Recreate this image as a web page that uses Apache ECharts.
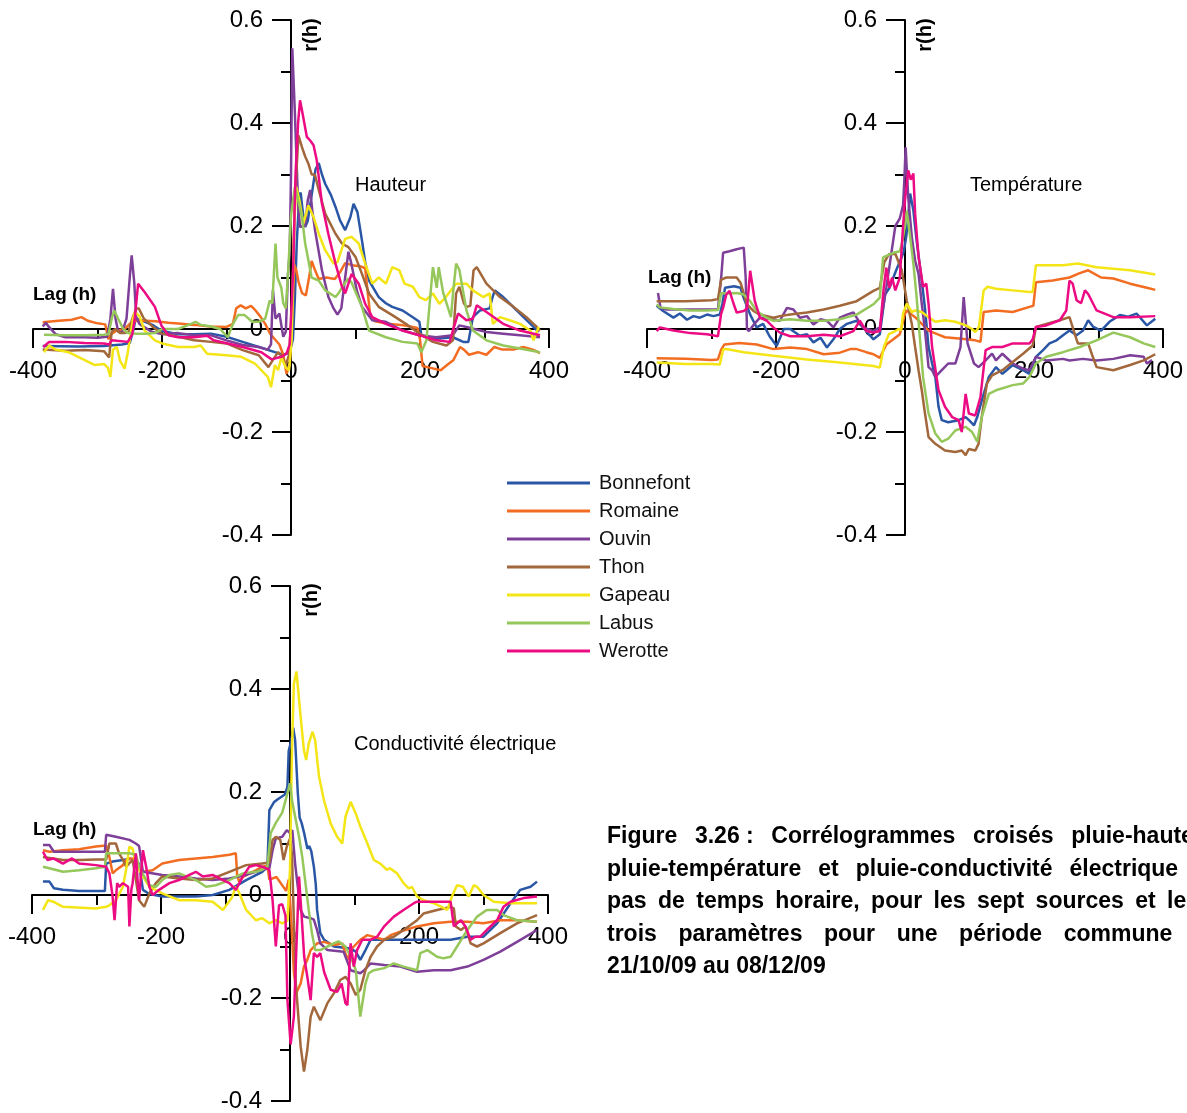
<!DOCTYPE html>
<html><head><meta charset="utf-8">
<script src="https://cdn.jsdelivr.net/npm/echarts@6/dist/echarts.min.js"></script>
<style>html,body{margin:0;padding:0;background:#fff}#c{width:1187px;height:1113px}</style>
</head><body><div id="c"></div>
<script>
const names = ['Bonnefont','Romaine','Ouvin','Thon','Gapeau','Labus','Werotte'];
const colors = ['#2a57a5','#f26d21','#7e3f99','#a2673b','#f4e516','#95c75b','#ec0b83'];
const panelTitles = ['Hauteur','Température','Conductivité électrique'];
const xTicks = [-400,-200,0,200,400];
const yTicks = [-0.4,-0.2,0,0.2,0.4,0.6];

// ---- Hauteur ----
const H_Bonnefont = [[-385,-0.033],[-330,-0.034],[-290,-0.033],[-262,-0.03],[-250,-0.027],[-244,0.0],[-241,0.02],[-230,0.016],[-215,0.008],[-200,-0.004],[-175,-0.01],[-150,-0.01],[-124,-0.009],[-100,-0.015],[-75,-0.025],[-50,-0.035],[-25,-0.045],[-12,-0.05],[-5,-0.047],[0,-0.035],[3,-0.02],[6,0.06],[9,0.17],[13,0.26],[15,0.265],[18,0.23],[22,0.198],[26,0.21],[32,0.26],[38,0.31],[43,0.322],[48,0.3],[53,0.282],[62,0.26],[69,0.237],[76,0.211],[84,0.192],[92,0.217],[97,0.243],[103,0.227],[110,0.172],[115,0.13],[121,0.094],[136,0.062],[147,0.05],[157,0.043],[173,0.036],[190,0.022],[199,0.014],[202,-0.012],[225,-0.019],[251,-0.016],[267,-0.025],[275,-0.025],[282,0.023],[293,0.036],[308,0.04],[312,0.06],[316,0.075],[329,0.062],[355,0.03],[376,0.004],[384,-0.006]];
const H_Romaine = [[-385,0.013],[-360,0.016],[-340,0.018],[-325,0.023],[-315,0.016],[-300,0.011],[-288,0.009],[-283,-0.02],[-279,-0.01],[-270,-0.003],[-258,0.0],[-250,0.01],[-240,0.016],[-225,0.016],[-210,0.015],[-190,0.012],[-170,0.01],[-150,0.008],[-125,0.005],[-100,0.004],[-90,0.01],[-85,0.04],[-78,0.046],[-70,0.04],[-62,0.045],[-55,0.036],[-48,0.025],[-40,0.01],[-32,-0.01],[-25,-0.02],[-18,-0.03],[-12,-0.05],[-7,-0.087],[-2,-0.07],[2,0.03],[5,0.125],[8,0.115],[12,0.09],[17,0.07],[23,0.065],[28,0.1],[32,0.132],[37,0.115],[43,0.097],[55,0.1],[68,0.097],[76,0.11],[84,0.128],[95,0.124],[107,0.122],[115,0.118],[119,0.07],[123,0.025],[130,0.015],[150,0.01],[170,0.008],[185,0.005],[196,0.002],[200,-0.02],[204,-0.072],[215,-0.075],[232,-0.08],[242,-0.07],[252,-0.06],[262,-0.035],[268,-0.04],[276,-0.05],[290,-0.045],[303,-0.05],[315,-0.035],[328,-0.04],[345,-0.04],[360,-0.035],[375,-0.04],[386,-0.047]];
const H_Ouvin = [[-385,0.005],[-380,0.012],[-376,0.005],[-365,-0.01],[-350,-0.016],[-320,-0.016],[-300,-0.017],[-285,-0.015],[-280,0.02],[-276,0.078],[-272,0.02],[-268,-0.005],[-262,-0.007],[-255,0.02],[-250,0.1],[-247,0.143],[-243,0.09],[-240,0.023],[-235,0.01],[-228,0.004],[-215,-0.006],[-200,-0.01],[-175,-0.008],[-150,-0.012],[-125,-0.012],[-100,-0.022],[-75,-0.031],[-50,-0.035],[-36,-0.04],[-31,-0.03],[-28,0.075],[-24,0.02],[-18,0.03],[-12,-0.015],[-8,-0.005],[-5,0.1],[-2,0.15],[0,0.3],[2,0.545],[6,0.42],[11,0.243],[14,0.198],[18,0.2],[22,0.2],[26,0.25],[29.7,0.27],[33,0.23],[37.5,0.19],[48,0.114],[58,0.062],[66,0.04],[72,0.028],[78,0.04],[84,0.1],[89,0.15],[93,0.13],[102,0.075],[110,0.043],[126,0.017],[147,0.014],[173,-0.003],[199,-0.012],[225,-0.016],[251,-0.012],[261,0.007],[272,0.004],[303,-0.006],[329,-0.009],[355,-0.012],[386,-0.016]];
const H_Thon = [[-385,-0.04],[-350,-0.042],[-320,-0.041],[-290,-0.043],[-282,-0.055],[-278,-0.005],[-272,0.0],[-265,-0.008],[-258,-0.008],[-252,-0.006],[-246,0.02],[-240,0.04],[-236,0.04],[-228,0.02],[-215,0.005],[-200,-0.009],[-175,-0.015],[-150,-0.022],[-124,-0.025],[-100,-0.028],[-75,-0.041],[-50,-0.051],[-35,-0.074],[-28,-0.06],[-20,-0.045],[-14,-0.054],[-8,-0.07],[-3,-0.05],[2,0.05],[6,0.25],[11.5,0.376],[17,0.353],[22,0.335],[27,0.321],[32,0.3],[37,0.3],[43,0.27],[53,0.224],[69,0.185],[79,0.166],[89,0.159],[100,0.14],[110,0.107],[121,0.069],[136,0.043],[157,0.027],[178,0.01],[199,-0.009],[220,-0.025],[241,-0.032],[251,-0.022],[256,0.069],[261,0.082],[268,0.05],[272,0.043],[278,0.045],[283,0.114],[288,0.12],[303,0.088],[324,0.062],[345,0.043],[365,0.023],[381,0.004],[386,-0.003]];
const H_Gapeau = [[-383,-0.045],[-375,-0.032],[-365,-0.04],[-345,-0.045],[-330,-0.054],[-304,-0.07],[-290,-0.068],[-284,-0.075],[-280,-0.093],[-276,-0.04],[-270,-0.035],[-265,-0.062],[-258,-0.077],[-253,-0.045],[-245,0.02],[-242,0.033],[-235,0.025],[-227,-0.003],[-211,-0.022],[-200,-0.028],[-175,-0.035],[-150,-0.035],[-140,-0.032],[-130,-0.048],[-100,-0.051],[-77,-0.054],[-56,-0.067],[-36,-0.093],[-31,-0.113],[-25,-0.07],[-20,-0.08],[-15,-0.055],[-8,-0.075],[-3,-0.08],[1,-0.02],[5,0.2],[8,0.276],[13,0.25],[19,0.204],[27,0.24],[35,0.217],[43,0.185],[53,0.153],[66,0.127],[72,0.13],[84,0.175],[94,0.179],[105,0.166],[115,0.127],[126,0.088],[136,0.1],[147,0.088],[157,0.12],[168,0.114],[176,0.088],[189,0.082],[199,0.062],[209,0.056],[220,0.069],[230,0.049],[240,0.062],[256,0.088],[272,0.088],[282,0.075],[298,0.062],[308,0.069],[313,0.01],[324,0.023],[339,0.017],[355,0.01],[371,-0.003],[376,-0.022],[384,0.004]];
const H_Labus = [[-383,-0.011],[-350,-0.012],[-320,-0.012],[-290,-0.011],[-283,-0.01],[-278,0.02],[-274,0.036],[-268,0.02],[-260,0.0],[-253,-0.008],[-240,-0.009],[-225,-0.009],[-211,-0.008],[-200,0.0],[-175,0.0],[-155,0.01],[-148,0.014],[-140,0.008],[-124,0.005],[-110,0.0],[-98,-0.016],[-90,0.01],[-82,0.027],[-72,0.027],[-60,0.014],[-50,0.014],[-40,0.02],[-33,0.055],[-29,0.05],[-26,0.12],[-24,0.166],[-21,0.1],[-15,0.08],[-12,0.05],[-8,0.04],[-4,0.12],[0,0.22],[6,0.276],[11,0.25],[17,0.217],[22,0.166],[32,0.1],[43,0.094],[53,0.075],[69,0.062],[74,0.07],[84,0.09],[89,0.098],[94,0.09],[110,0.043],[121,-0.003],[147,-0.016],[173,-0.025],[196,-0.028],[202,-0.045],[210,-0.022],[215,0.05],[220,0.12],[226,0.08],[229,0.12],[236,0.07],[248,0.023],[252,0.08],[256,0.127],[261,0.115],[272,0.036],[282,-0.003],[303,-0.022],[329,-0.032],[355,-0.038],[386,-0.045]];
const H_Werotte = [[-384,-0.035],[-375,-0.025],[-350,-0.025],[-320,-0.027],[-290,-0.028],[-282,-0.03],[-278,-0.022],[-270,-0.023],[-253,-0.025],[-246,-0.01],[-242,0.023],[-237,0.088],[-227,0.072],[-211,0.043],[-201,0.007],[-190,-0.012],[-175,-0.016],[-150,-0.016],[-130,-0.013],[-120,-0.022],[-98,-0.028],[-75,-0.035],[-46,-0.045],[-30,-0.059],[-15,-0.054],[-7,-0.048],[-2,-0.03],[3,0.1],[7,0.3],[11,0.4],[14,0.444],[18,0.418],[24.6,0.373],[29.7,0.366],[35,0.357],[38,0.357],[40,0.327],[48,0.243],[58,0.184],[69,0.127],[79,0.082],[84,0.069],[94,0.107],[105,0.088],[115,0.049],[126,0.023],[147,0.01],[173,-0.003],[199,-0.012],[225,-0.022],[246,-0.025],[251,-0.003],[259,0.03],[272,0.017],[282,0.02],[288,0.046],[303,0.033],[329,0.01],[355,-0.003],[386,-0.012]];

// ---- Température ----
const T_Bonnefont = [[-385,0.045],[-375,0.035],[-359,0.022],[-349,0.03],[-338,0.018],[-328,0.025],[-318,0.022],[-307,0.028],[-297,0.025],[-287,0.028],[-283,0.05],[-279,0.08],[-265,0.083],[-255,0.08],[-250,0.06],[-240,0.028],[-230,0.003],[-220,0.01],[-210,-0.014],[-199,-0.033],[-193,-0.015],[-188,0.0],[-178,0.0],[-163,-0.013],[-152,-0.01],[-142,-0.026],[-131,-0.017],[-121,-0.036],[-111,-0.02],[-101,0.0],[-90,0.01],[-75,0.016],[-65,0.003],[-54,-0.013],[-49,-0.02],[-39,-0.01],[-31,0.067],[-24,0.08],[-14,0.113],[-5,0.14],[-2,0.15],[2,0.18],[8,0.263],[13,0.23],[18,0.172],[26,0.094],[31,0.04],[36.5,-0.035],[42,-0.067],[47,-0.093],[52,-0.151],[57,-0.177],[67,-0.181],[83,-0.177],[94,-0.171],[100,-0.178],[107,-0.187],[112,-0.171],[119,-0.139],[130,-0.093],[141,-0.074],[151,-0.087],[167,-0.07],[183,-0.08],[193,-0.087],[203,-0.054],[214,-0.041],[224,-0.028],[235,-0.022],[245,-0.012],[255,-0.003],[266,-0.012],[276,-0.003],[284,0.017],[292,0.004],[304,-0.003],[317,0.014],[333,0.027],[346,0.024],[359,0.03],[375,0.007],[388,0.02]];
const T_Romaine = [[-385,-0.057],[-340,-0.058],[-300,-0.06],[-290,-0.059],[-285,-0.04],[-280,-0.03],[-257,-0.027],[-230,-0.03],[-204,-0.039],[-178,-0.036],[-152,-0.039],[-126,-0.049],[-101,-0.046],[-85,-0.039],[-75,-0.039],[-60,-0.045],[-49,-0.049],[-39,-0.056],[-29,-0.03],[-18,-0.02],[-8,-0.01],[-3,0.015],[0,0.03],[3,0.036],[8,0.03],[15.7,0.023],[26,0.01],[36.5,-0.003],[50,-0.01],[62,-0.016],[88,-0.019],[109,-0.022],[117,-0.025],[122,0.033],[141,0.036],[167,0.033],[193,0.043],[199,0.045],[203,0.091],[229,0.094],[255,0.1],[270,0.108],[284,0.114],[304,0.1],[323,0.098],[349,0.088],[375,0.08],[388,0.076]];
const T_Ouvin = [[-383,0.07],[-379,0.041],[-370,0.038],[-330,0.038],[-290,0.038],[-285,0.1],[-282,0.148],[-272,0.151],[-261,0.155],[-250,0.158],[-247,0.1],[-245,0.0],[-242,-0.004],[-234,0.009],[-225,0.022],[-204,0.019],[-194,0.016],[-183,0.041],[-173,0.038],[-163,0.022],[-152,0.025],[-142,0.009],[-131,0.019],[-121,0.016],[-111,0.003],[-101,0.022],[-90,0.028],[-80,0.032],[-75,0.022],[-65,0.003],[-49,-0.004],[-39,0.003],[-29,0.08],[-22,0.14],[-15,0.2],[-8,0.215],[-3,0.24],[-1,0.29],[1,0.353],[5,0.256],[10.5,0.179],[15.7,0.133],[21,0.107],[26,0.049],[31,-0.003],[36.5,-0.074],[42,-0.08],[47,-0.093],[57,-0.08],[67,-0.067],[78,-0.067],[86,-0.035],[91,0.062],[97,-0.028],[107,-0.067],[114,-0.074],[125,-0.061],[135,-0.048],[141,-0.061],[151,-0.048],[167,-0.067],[183,-0.077],[193,-0.08],[203,-0.054],[219,-0.061],[245,-0.058],[255,-0.061],[276,-0.058],[297,-0.061],[323,-0.058],[349,-0.051],[370,-0.054],[375,-0.067],[383,-0.06]];
const T_Thon = [[-385,0.054],[-340,0.054],[-300,0.056],[-290,0.058],[-285,0.096],[-277,0.1],[-261,0.1],[-255,0.09],[-245,0.048],[-235,0.035],[-225,0.028],[-204,0.022],[-194,0.025],[-178,0.028],[-152,0.032],[-126,0.038],[-101,0.045],[-75,0.054],[-49,0.074],[-39,0.08],[-32,0.13],[-25,0.145],[-15,0.146],[-5,0.114],[2.6,0.056],[10.5,0.01],[15.7,-0.035],[21,-0.08],[26,-0.119],[31,-0.164],[36.5,-0.21],[47,-0.223],[62,-0.236],[78,-0.239],[88,-0.236],[94,-0.245],[99,-0.233],[109,-0.236],[114,-0.223],[119,-0.171],[127,-0.106],[135,-0.09],[151,-0.08],[167,-0.064],[183,-0.048],[198,-0.032],[203,0.004],[219,0.01],[240,0.017],[255,0.023],[263,-0.009],[268,-0.028],[284,-0.028],[290,-0.05],[297,-0.074],[323,-0.08],[349,-0.07],[370,-0.061],[388,-0.049]];
const T_Gapeau = [[-385,-0.065],[-340,-0.068],[-300,-0.068],[-287,-0.069],[-282,-0.04],[-277,-0.039],[-250,-0.045],[-204,-0.052],[-152,-0.059],[-101,-0.065],[-49,-0.072],[-39,-0.075],[-33,-0.036],[-25,-0.01],[-15,-0.004],[-10,0.0],[-6,-0.002],[-3,0.03],[0,0.04],[2.6,0.049],[10.5,0.033],[15.7,0.036],[26,0.033],[36.5,0.023],[47,0.014],[62,0.017],[78,0.014],[94,0.007],[104,0.0],[109,-0.006],[114.6,0.004],[122,0.075],[128,0.082],[141,0.078],[167,0.075],[193,0.072],[198,0.072],[203,0.124],[219,0.124],[245,0.124],[268,0.127],[297,0.12],[323,0.117],[349,0.114],[388,0.106]];
const T_Labus = [[-385,0.048],[-380,0.042],[-359,0.039],[-333,0.036],[-307,0.036],[-290,0.037],[-285,0.07],[-277,0.069],[-261,0.07],[-250,0.067],[-240,0.054],[-230,0.035],[-215,0.022],[-204,0.016],[-178,0.019],[-152,0.016],[-126,0.016],[-101,0.019],[-75,0.028],[-49,0.048],[-39,0.061],[-34,0.139],[-18,0.148],[-8,0.151],[-4,0.17],[0,0.2],[2.6,0.23],[8,0.179],[13,0.127],[18,0.062],[23,-0.016],[28,-0.093],[36.5,-0.164],[47,-0.203],[57,-0.219],[67,-0.213],[78,-0.197],[94,-0.19],[104,-0.2],[112,-0.219],[119,-0.171],[130,-0.126],[141,-0.119],[167,-0.109],[183,-0.106],[193,-0.093],[203,-0.067],[219,-0.054],[245,-0.045],[271,-0.035],[297,-0.022],[323,-0.007],[349,-0.016],[370,-0.028],[388,-0.035]];
const T_Werotte = [[-385,-0.004],[-380,0.003],[-359,-0.003],[-333,-0.008],[-307,-0.01],[-290,-0.014],[-285,0.03],[-282,0.041],[-277,0.067],[-272,0.074],[-266,0.05],[-261,0.032],[-250,0.035],[-245,0.04],[-240,0.113],[-233,0.055],[-225,0.022],[-214,0.016],[-204,0.003],[-194,-0.007],[-178,-0.014],[-152,-0.014],[-126,-0.011],[-101,-0.014],[-80,-0.004],[-70,0.016],[-60,-0.004],[-49,-0.007],[-39,-0.004],[-33,0.08],[-29,0.119],[-24,0.08],[-20,0.1],[-15,0.075],[-8,0.1],[-3,0.2],[0,0.25],[5,0.308],[9,0.29],[13,0.302],[15.7,0.224],[21,0.14],[28,0.082],[33,0.088],[36.5,0.049],[42,-0.035],[52,-0.119],[62,-0.151],[73,-0.171],[83,-0.177],[88,-0.2],[94,-0.126],[99,-0.164],[109,-0.168],[117,-0.132],[125,-0.041],[135,-0.035],[151,-0.035],[167,-0.028],[193,-0.028],[198,-0.02],[203,0.004],[219,0.007],[240,0.017],[250,0.036],[255,0.094],[260,0.088],[266,0.056],[273,0.05],[279,0.075],[284,0.068],[297,0.036],[323,0.023],[349,0.023],[388,0.025]];

// ---- Conductivité électrique ----
const C_Bonnefont = [[-383,0.026],[-373,0.026],[-366,0.013],[-352,0.01],[-327,0.008],[-301,0.008],[-287,0.008],[-285,0.061],[-275,0.065],[-259,0.068],[-249,0.07],[-239,0.07],[-234,0.06],[-228,0.01],[-218,0.002],[-198,-0.003],[-172,-0.003],[-146,-0.003],[-120,0.0],[-94,0.01],[-68,0.029],[-43,0.045],[-35,0.055],[-32,0.165],[-25,0.18],[-20,0.185],[-8,0.195],[-4,0.21],[-2,0.28],[2,0.3],[5,0.325],[8,0.3],[12,0.2],[15,0.15],[18,0.14],[22,0.12],[27,0.09],[30,0.095],[33,0.085],[37,0.055],[40,0.02],[42,-0.029],[47,-0.074],[53,-0.087],[68,-0.1],[94,-0.104],[102,-0.11],[109,-0.126],[117,-0.107],[125,-0.087],[156,-0.087],[197,-0.087],[249,-0.087],[275,-0.081],[300,-0.081],[321,-0.055],[342,-0.016],[357,0.01],[373,0.016],[383,0.026]];
const C_Romaine = [[-383,0.087],[-373,0.084],[-352,0.087],[-327,0.089],[-301,0.094],[-285,0.096],[-280,0.074],[-275,0.042],[-270,0.048],[-259,0.058],[-254,0.068],[-249,0.071],[-239,0.07],[-234,0.05],[-228,0.045],[-213,0.048],[-198,0.061],[-172,0.068],[-146,0.071],[-120,0.074],[-94,0.078],[-84,0.081],[-82,0.04],[-79,0.026],[-73,0.035],[-63,0.042],[-53,0.048],[-43,0.055],[-35,0.057],[-32,0.03],[-21,0.035],[-6,0.008],[-2,0.03],[2,-0.05],[6,-0.15],[10,-0.19],[16.5,-0.172],[21.7,-0.139],[26.8,-0.126],[32,-0.107],[42,-0.094],[53,-0.091],[68,-0.097],[81,-0.094],[89,-0.126],[94,-0.107],[99,-0.1],[109,-0.087],[120,-0.078],[146,-0.087],[156,-0.078],[171,-0.071],[197,-0.061],[223,-0.055],[249,-0.052],[275,-0.052],[300,-0.055],[326,-0.049],[352,-0.049],[383,-0.052]];
const C_Ouvin = [[-383,0.097],[-373,0.097],[-366,0.084],[-327,0.084],[-301,0.084],[-287,0.084],[-285,0.117],[-270,0.113],[-249,0.107],[-239,0.1],[-234,0.095],[-228,0.045],[-198,0.039],[-172,0.036],[-146,0.032],[-120,0.029],[-94,0.032],[-68,0.039],[-43,0.049],[-32,0.052],[-27,0.087],[-22,0.11],[-12,0.113],[-5,0.126],[0,0.12],[3.6,0.126],[8,0.06],[11.4,0.023],[16.5,-0.029],[21.7,-0.042],[32,-0.045],[37,-0.048],[42,-0.068],[47,-0.094],[58,-0.107],[83,-0.11],[94,-0.146],[109,-0.152],[115,-0.146],[125,-0.133],[146,-0.136],[171,-0.139],[197,-0.149],[223,-0.146],[249,-0.146],[275,-0.139],[300,-0.126],[326,-0.11],[352,-0.091],[383,-0.068]];
const C_Thon = [[-383,0.074],[-352,0.068],[-327,0.068],[-301,0.069],[-285,0.069],[-280,0.1],[-270,0.1],[-265,0.081],[-259,0.068],[-254,0.055],[-249,0.062],[-244,0.068],[-239,0.03],[-234,-0.01],[-226,-0.023],[-218,0.003],[-208,0.023],[-198,0.036],[-172,0.032],[-146,0.029],[-120,0.032],[-94,0.045],[-68,0.058],[-43,0.061],[-32,0.063],[-27,0.107],[-22,0.113],[-15,0.107],[-10,0.068],[-5,0.094],[0,0.11],[3,0.08],[6,-0.05],[9,-0.171],[16.5,-0.294],[21.7,-0.343],[26.8,-0.301],[32,-0.236],[37,-0.217],[42,-0.23],[47,-0.243],[58,-0.21],[68,-0.191],[78,-0.165],[86,-0.159],[94,-0.172],[102,-0.194],[109,-0.184],[117,-0.146],[125,-0.12],[135,-0.1],[146,-0.087],[161,-0.081],[176,-0.068],[197,-0.049],[207,-0.036],[228,-0.029],[249,-0.023],[254,-0.026],[257,-0.061],[265,-0.068],[272,-0.061],[280,-0.094],[290,-0.1],[300,-0.094],[326,-0.074],[352,-0.055],[383,-0.039]];
const C_Gapeau = [[-383,-0.029],[-375,-0.01],[-367,-0.013],[-352,-0.023],[-301,-0.026],[-285,-0.023],[-280,-0.02],[-270,-0.01],[-259,0.016],[-254,0.05],[-249,0.094],[-244,0.09],[-239,0.06],[-228,0.036],[-218,0.016],[-198,0.003],[-172,-0.01],[-146,-0.01],[-120,-0.013],[-104,-0.029],[-90,-0.005],[-84,0.016],[-79,0.005],[-68,-0.029],[-53,-0.049],[-43,-0.045],[-32,-0.055],[-22,-0.049],[-12,-0.055],[-4,-0.05],[0,0.05],[3,0.28],[6,0.41],[10,0.434],[16.5,0.346],[21.7,0.28],[25,0.262],[29,0.294],[35,0.317],[39,0.3],[45,0.23],[52.6,0.184],[63,0.139],[73,0.113],[81,0.1],[86,0.152],[94,0.181],[102,0.158],[109,0.133],[120,0.1],[130,0.068],[140,0.061],[150,0.049],[155,0.052],[166,0.042],[176,0.023],[184,0.013],[189,0.016],[197,-0.003],[207,-0.01],[223,-0.016],[244,-0.029],[251,-0.003],[259,0.019],[268,0.016],[277,-0.003],[285,0.019],[290,0.016],[300,0.0],[316,-0.013],[342,-0.016],[362,-0.016],[383,-0.016]];
const C_Labus = [[-383,0.055],[-373,0.052],[-352,0.045],[-327,0.048],[-301,0.052],[-287,0.055],[-285,0.081],[-259,0.081],[-249,0.081],[-239,0.078],[-234,0.055],[-226,0.036],[-218,0.019],[-208,0.016],[-198,0.029],[-187,0.039],[-172,0.042],[-146,0.029],[-130,0.016],[-115,0.019],[-94,0.029],[-73,0.042],[-53,0.045],[-43,0.049],[-35,0.055],[-30,0.12],[-22,0.14],[-12,0.16],[-4,0.197],[0,0.217],[3.6,0.18],[8,0.152],[14,0.113],[19,0.074],[24,0.023],[29,-0.029],[34,-0.074],[39,-0.107],[47,-0.107],[58,-0.1],[68,-0.094],[75,-0.09],[86,-0.1],[94,-0.12],[102,-0.146],[109,-0.236],[117,-0.172],[122,-0.152],[130,-0.146],[146,-0.142],[161,-0.133],[176,-0.139],[197,-0.146],[202,-0.113],[213,-0.107],[228,-0.12],[238,-0.123],[249,-0.12],[259,-0.1],[275,-0.068],[290,-0.042],[305,-0.029],[321,-0.029],[331,-0.039],[352,-0.049],[383,-0.052]];
const C_Werotte = [[-383,0.084],[-376,0.068],[-367,0.071],[-352,0.061],[-338,0.071],[-327,0.061],[-301,0.058],[-285,0.055],[-280,0.042],[-275,-0.003],[-272,-0.049],[-268,0.023],[-265,0.016],[-259,0.023],[-251,0.016],[-249,-0.061],[-246,0.01],[-244,0.023],[-239,0.081],[-236,0.023],[-234,-0.01],[-228,0.087],[-223,0.055],[-218,0.016],[-213,0.0],[-203,0.01],[-187,0.023],[-172,0.029],[-156,0.039],[-146,0.045],[-135,0.036],[-120,0.039],[-104,0.029],[-94,0.023],[-84,0.01],[-73,0.036],[-63,0.055],[-53,0.058],[-43,0.055],[-32,0.049],[-27,-0.01],[-22,-0.1],[-17,-0.02],[-12,-0.018],[-7,-0.04],[-4,-0.204],[1,-0.29],[6,-0.236],[10,-0.1],[14,0.036],[18,-0.04],[22,-0.12],[27,-0.16],[32,-0.204],[37,-0.113],[42,-0.12],[47,-0.113],[53,-0.15],[63,-0.184],[73,-0.188],[80,-0.172],[86,-0.21],[89,-0.214],[94,-0.094],[99,-0.139],[104,-0.107],[112,-0.087],[125,-0.087],[135,-0.081],[146,-0.061],[161,-0.042],[176,-0.029],[192,-0.016],[197,-0.013],[249,-0.013],[254,-0.061],[259,-0.055],[265,-0.049],[272,-0.061],[280,-0.087],[287,-0.081],[295,-0.081],[305,-0.068],[321,-0.049],[331,-0.023],[342,-0.013],[362,-0.006],[383,-0.003]];

const captionLines = [
  'Figure 3.26 : Corrélogrammes croisés pluie-hauteur,',
  'pluie-température et pluie-conductivité électrique au',
  'pas de temps horaire, pour les sept sources et leurs',
  'trois paramètres pour une période commune du',
  '21/10/09 au 08/12/09'
];

const panels = [
  [H_Bonnefont,H_Romaine,H_Ouvin,H_Thon,H_Gapeau,H_Labus,H_Werotte],
  [T_Bonnefont,T_Romaine,T_Ouvin,T_Thon,T_Gapeau,T_Labus,T_Werotte],
  [C_Bonnefont,C_Romaine,C_Ouvin,C_Thon,C_Gapeau,C_Labus,C_Werotte]
];

const FONT = '"Liberation Sans", Arial, sans-serif';
const grids = [
  {left:33, top:20, width:516, height:515},
  {left:647, top:20, width:516, height:515},
  {left:32, top:586, width:516, height:515}
];
const xMin = xTicks[0], xMax = xTicks[xTicks.length-1];
const yMin = yTicks[0], yMax = yTicks[yTicks.length-1];

function xAxis(i){
  const off = -grids[i].height * (0 - yMin) / (yMax - yMin);
  return {gridIndex:i, type:'value', min:xMin, max:xMax, interval:xTicks[1]-xTicks[0],
    position:'bottom', offset:off,
    axisLine:{onZero:false, lineStyle:{color:'#000', width:2}},
    axisTick:{show:true, length:19, lineStyle:{color:'#000', width:2}},
    minorTick:{show:true, splitNumber:2, length:10, lineStyle:{color:'#000', width:2}},
    axisLabel:{fontSize:24, color:'#000', fontFamily:FONT, margin:30},
    splitLine:{show:false}, minorSplitLine:{show:false}};
}
function yAxis(i){
  const off = -grids[i].width * (0 - xMin) / (xMax - xMin);
  return {gridIndex:i, type:'value', min:yMin, max:yMax, interval:yTicks[1]-yTicks[0],
    position:'left', offset:off,
    axisLine:{onZero:false, lineStyle:{color:'#000', width:2}},
    axisTick:{show:true, length:19, lineStyle:{color:'#000', width:2}},
    minorTick:{show:true, splitNumber:2, length:10, lineStyle:{color:'#000', width:2}},
    axisLabel:{fontSize:24, color:'#000', fontFamily:FONT, margin:28, formatter:v=>String(Math.round(v*10)/10)},
    splitLine:{show:false}, minorSplitLine:{show:false}};
}

const series = [];
panels.forEach((p,gi)=>{
  p.forEach((d,si)=>{
    series.push({name:names[si], type:'line', xAxisIndex:gi, yAxisIndex:gi, data:d,
      showSymbol:false, symbol:'none', lineStyle:{width:2.5, color:colors[si]}, itemStyle:{color:colors[si]},
      emphasis:{disabled:true}, animation:false, z:3});
  });
});

const graphic = [];
const lagPos = [[33,295],[648,278],[33,830]];
const rPos = [[311,35],[925,35],[311,600]];
const titlePos = [[355,185],[970,185],[354,744]];
for (let i=0;i<3;i++){
  graphic.push({type:'text', x:lagPos[i][0], y:lagPos[i][1], style:{text:'Lag (h)', font:'bold 19px '+FONT, fill:'#000', textVerticalAlign:'middle'}});
  graphic.push({type:'text', x:rPos[i][0], y:rPos[i][1], rotation:Math.PI/2, style:{text:'r(h)', font:'bold 20px '+FONT, fill:'#000', textAlign:'center', textVerticalAlign:'middle'}});
  graphic.push({type:'text', x:titlePos[i][0], y:titlePos[i][1], style:{text:panelTitles[i], font:'20px '+FONT, fill:'#000', textVerticalAlign:'middle'}});
}
// justified caption
const capFont = 'bold 23px '+FONT;
const cv = document.createElement('canvas').getContext('2d');
cv.font = capFont;
const capX = 607, capW = 615, capY0 = 837, capDy = 32.5;
captionLines.forEach((line, li)=>{
  const y = capY0 + li*capDy;
  if (li === captionLines.length-1){
    graphic.push({type:'text', x:capX, y:y, style:{text:line, font:capFont, fill:'#000', textVerticalAlign:'middle'}});
    return;
  }
  const words = line.replace('3.26 :','3.26\u00a0:').split(' ');
  const ws = words.map(w=>cv.measureText(w).width);
  const gap = (capW - ws.reduce((a,b)=>a+b,0))/(words.length-1);
  let x = capX;
  words.forEach((w,k)=>{
    graphic.push({type:'text', x:x, y:y, style:{text:w, font:capFont, fill:'#000', textVerticalAlign:'middle'}});
    x += ws[k] + gap;
  });
});

const chart = echarts.init(document.getElementById('c'), null, {renderer:'canvas'});
chart.setOption({
  animation:false,
  backgroundColor:'#fff',
  grid:grids.map(g=>Object.assign({containLabel:false, outerBoundsMode:'none'}, g)),
  xAxis:[xAxis(0),xAxis(1),xAxis(2)],
  yAxis:[yAxis(0),yAxis(1),yAxis(2)],
  legend:{orient:'vertical', left:507, top:473, padding:0, itemWidth:83, itemHeight:3, itemGap:8, icon:'rect',
    data:names, textStyle:{fontSize:20, color:'#111', fontFamily:FONT, lineHeight:20, padding:[0,0,0,4]}, selectedMode:false},
  series:series,
  graphic:graphic
});
</script></body></html>
